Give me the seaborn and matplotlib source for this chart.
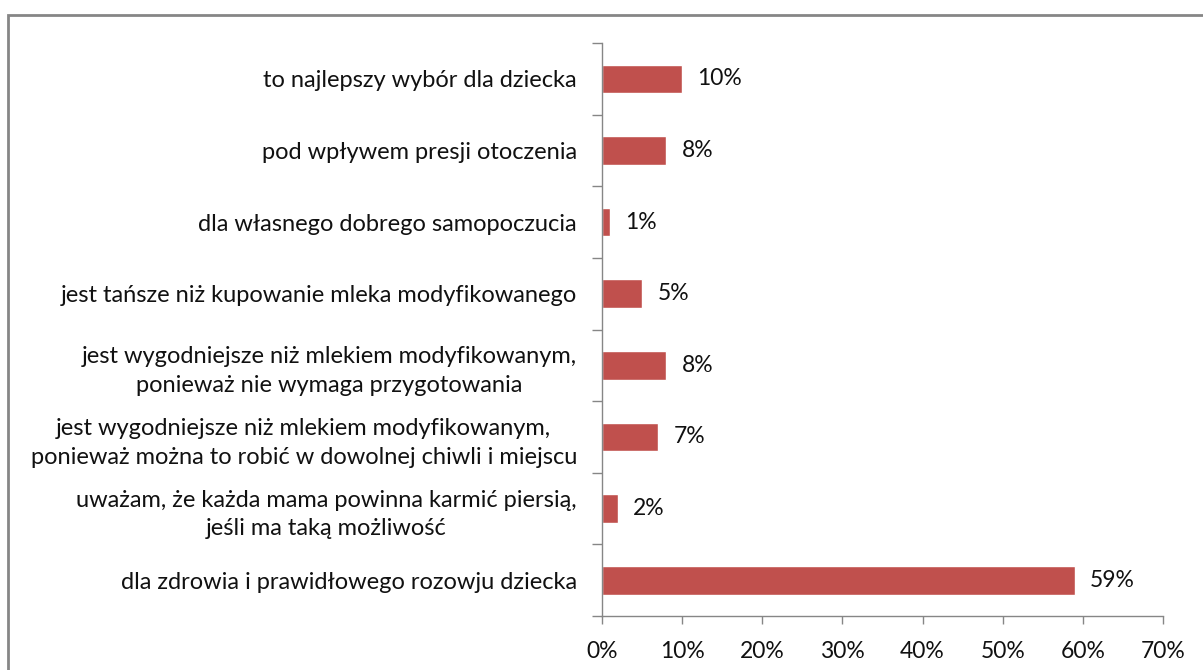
import pandas as pd
import seaborn as sns
import matplotlib.pyplot as plt
from matplotlib.patches import Rectangle
from matplotlib.ticker import FuncFormatter, FixedLocator

# data, top to bottom as in the chart
reasons = [
    'to najlepszy wybór dla dziecka',
    'pod wpływem presji otoczenia',
    'dla własnego dobrego samopoczucia',
    'jest tańsze niż kupowanie mleka modyfikowanego',
    'jest wygodniejsze niż mlekiem modyfikowanym,\nponieważ nie wymaga przygotowania',
    'jest wygodniejsze niż mlekiem modyfikowanym,\nponieważ można to robić w dowolnej chiwli i miejscu',
    'uważam, że każda mama powinna karmić piersią,\njeśli ma taką możliwość',
    'dla zdrowia i prawidłowego rozowju dziecka',
]
shares = [10, 8, 1, 5, 8, 7, 2, 59]
x_ticks = [0, 10, 20, 30, 40, 50, 60, 70]

BAR = '#C0504D'
GREY = '#868686'
FS = 17

sns.set_theme(style='white')
plt.rcParams['font.family'] = ['Lato', 'DejaVu Sans']

df = pd.DataFrame({'reason': reasons, 'share': shares})

fig = plt.figure(figsize=(12.03, 6.70), dpi=100)
ax = fig.add_axes([0.5004, 0.0806, 0.4664, 0.8552])

sns.barplot(data=df, x='share', y='reason', color=BAR, width=0.4,
            saturation=1, ax=ax)

ax.set_xlim(0, 70)
ax.set_ylim(7.5, -0.5)
ax.xaxis.set_major_locator(FixedLocator(x_ticks))
ax.xaxis.set_major_formatter(FuncFormatter(lambda v, p: f'{v:.0f}%'))
ax.set_xlabel('')
ax.set_ylabel('')

# Excel-style: tick marks between categories, labels centred on bars
ax.yaxis.set_minor_locator(FixedLocator([i - 0.5 for i in range(len(reasons) + 1)]))
ax.tick_params(axis='y', which='major', length=0, pad=18, labelsize=FS,
               labelcolor='#111111')
ax.tick_params(axis='y', which='minor', left=True, length=7, width=1, color=GREY)
ax.tick_params(axis='x', bottom=True, length=6, width=1, color=GREY,
               labelsize=16.5, pad=12, labelcolor='#111111')
for lbl in ax.get_yticklabels():
    lbl.set_multialignment('center')
    lbl.set_linespacing(1.45)

for side in ['top', 'right']:
    ax.spines[side].set_visible(False)
for side in ['left', 'bottom']:
    ax.spines[side].set_color(GREY)
    ax.spines[side].set_linewidth(1)

ax.bar_label(ax.containers[0], fmt='%d%%', padding=11, fontsize=16.5, color='#111111')

# outer chart frame, cut off at right and bottom
fig.patches.append(Rectangle((8 / 1203, -0.05), 1.1, 1 - 15 / 670 + 0.05,
                             transform=fig.transFigure, fill=False,
                             edgecolor=GREY, linewidth=2))

fig.savefig('out.png', dpi=100)
